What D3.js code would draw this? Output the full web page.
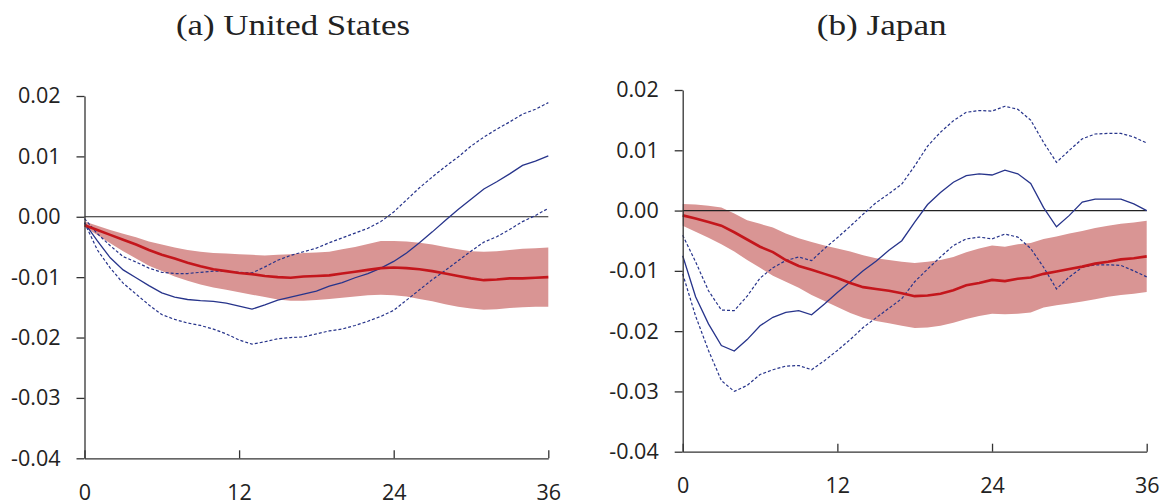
<!DOCTYPE html>
<html>
<head>
<meta charset="utf-8">
<script src="https://cdn.jsdelivr.net/npm/d3@7"></script>
<style>
  body { margin: 0; background: #fff; }
  svg { display: block; }
  .tick text { font-family: "Open Sans", sans-serif; font-size: 21.5px; fill: #222; }
  .title { font-family: "Liberation Serif", "Times New Roman", Tinos, Times, serif; font-weight: 400; font-size: 30px; fill: #222; }
</style>
</head>
<body>
<div id="chart"></div>
<script>
// Horizon (months) and tick labels
const months = d3.range(0, 37);
const xTicks = [0, 12, 24, 36];
const yTicks = [-0.04, -0.03, -0.02, -0.01, 0.00, 0.01, 0.02];

// (a) United States
const usMedian = [-0.0014, -0.0022, -0.0030, -0.0038, -0.0046, -0.0055, -0.0063, -0.0069, -0.0076, -0.0082,
  -0.0087, -0.0090, -0.0093, -0.0095, -0.0098, -0.0100, -0.0101, -0.0099, -0.0098, -0.0097,
  -0.0094, -0.0091, -0.0088, -0.0085, -0.0084, -0.0085, -0.0087, -0.0090, -0.0094, -0.0098,
  -0.0102, -0.0105, -0.0104, -0.0102, -0.0102, -0.0101, -0.0100];
const usBandHi = [-0.0008, -0.0015, -0.0022, -0.0028, -0.0034, -0.0041, -0.0046, -0.0051, -0.0055, -0.0058,
  -0.0060, -0.0061, -0.0062, -0.0063, -0.0064, -0.0063, -0.0062, -0.0060, -0.0059, -0.0058,
  -0.0054, -0.0050, -0.0045, -0.0040, -0.0040, -0.0041, -0.0043, -0.0046, -0.0050, -0.0054,
  -0.0057, -0.0058, -0.0057, -0.0055, -0.0053, -0.0052, -0.0051];
const usBandLo = [-0.0017, -0.0030, -0.0044, -0.0057, -0.0069, -0.0081, -0.0090, -0.0099, -0.0106, -0.0112,
  -0.0117, -0.0121, -0.0125, -0.0129, -0.0133, -0.0137, -0.0139, -0.0139, -0.0138, -0.0136,
  -0.0134, -0.0132, -0.0130, -0.0129, -0.0130, -0.0132, -0.0136, -0.0140, -0.0145, -0.0149,
  -0.0152, -0.0154, -0.0153, -0.0151, -0.0150, -0.0149, -0.0149];
const usPoint = [-0.0010, -0.0040, -0.0068, -0.0088, -0.0101, -0.0114, -0.0126, -0.0133, -0.0137, -0.0139,
  -0.0140, -0.0143, -0.0148, -0.0153, -0.0146, -0.0138, -0.0133, -0.0128, -0.0123, -0.0115,
  -0.0109, -0.0101, -0.0094, -0.0085, -0.0074, -0.0060, -0.0043, -0.0025, -0.0006, 0.0012,
  0.0029, 0.0046, 0.0058, 0.0071, 0.0085, 0.0092, 0.0101];
const usPointHi = [-0.0003, -0.0028, -0.0048, -0.0066, -0.0075, -0.0085, -0.0092, -0.0094, -0.0094, -0.0092,
  -0.0090, -0.0090, -0.0092, -0.0093, -0.0083, -0.0072, -0.0064, -0.0058, -0.0052, -0.0043,
  -0.0035, -0.0027, -0.0019, -0.0008, 0.0008, 0.0028, 0.0048, 0.0066, 0.0083, 0.0099,
  0.0117, 0.0132, 0.0145, 0.0157, 0.0170, 0.0178, 0.0189];
const usPointLo = [-0.0010, -0.0055, -0.0085, -0.0110, -0.0128, -0.0146, -0.0162, -0.0170, -0.0176, -0.0180,
  -0.0186, -0.0194, -0.0204, -0.0211, -0.0207, -0.0202, -0.0200, -0.0199, -0.0194, -0.0189,
  -0.0186, -0.0180, -0.0173, -0.0165, -0.0155, -0.0138, -0.0121, -0.0104, -0.0089, -0.0073,
  -0.0057, -0.0042, -0.0033, -0.0021, -0.0008, 0.0002, 0.0014];

// (b) Japan
const jpMedian = [-0.0008, -0.0013, -0.0019, -0.0025, -0.0036, -0.0048, -0.0060, -0.0069, -0.0082, -0.0092,
  -0.0098, -0.0105, -0.0112, -0.0120, -0.0127, -0.0130, -0.0133, -0.0137, -0.0142, -0.0141,
  -0.0138, -0.0132, -0.0124, -0.0120, -0.0115, -0.0117, -0.0113, -0.0111, -0.0105, -0.0101,
  -0.0097, -0.0093, -0.0088, -0.0085, -0.0081, -0.0079, -0.0076];
const jpBandHi = [0.0011, 0.0010, 0.0008, 0.0005, -0.0005, -0.0016, -0.0022, -0.0028, -0.0038, -0.0046,
  -0.0052, -0.0058, -0.0063, -0.0068, -0.0074, -0.0079, -0.0082, -0.0085, -0.0087, -0.0085,
  -0.0082, -0.0077, -0.0069, -0.0063, -0.0058, -0.0060, -0.0056, -0.0054, -0.0047, -0.0043,
  -0.0038, -0.0034, -0.0029, -0.0025, -0.0022, -0.0020, -0.0017];
const jpBandLo = [-0.0025, -0.0035, -0.0045, -0.0056, -0.0068, -0.0082, -0.0095, -0.0108, -0.0118, -0.0128,
  -0.0140, -0.0150, -0.0160, -0.0170, -0.0178, -0.0183, -0.0187, -0.0191, -0.0195, -0.0194,
  -0.0191, -0.0186, -0.0180, -0.0175, -0.0171, -0.0172, -0.0171, -0.0169, -0.0161, -0.0157,
  -0.0154, -0.0151, -0.0147, -0.0143, -0.0140, -0.0138, -0.0135];
const jpPoint = [-0.0075, -0.0143, -0.0188, -0.0224, -0.0233, -0.0214, -0.0191, -0.0177, -0.0169, -0.0166,
  -0.0173, -0.0155, -0.0136, -0.0118, -0.0100, -0.0084, -0.0066, -0.0050, -0.0019, 0.0010,
  0.0030, 0.0047, 0.0058, 0.0061, 0.0059, 0.0067, 0.0061, 0.0045, 0.0005, -0.0027,
  -0.0008, 0.0014, 0.0019, 0.0019, 0.0019, 0.0011, 0.0000];
const jpPointHi = [-0.0041, -0.0085, -0.0133, -0.0165, -0.0166, -0.0142, -0.0112, -0.0095, -0.0083, -0.0077,
  -0.0083, -0.0063, -0.0045, -0.0026, -0.0006, 0.0013, 0.0028, 0.0044, 0.0074, 0.0107,
  0.0130, 0.0149, 0.0163, 0.0166, 0.0165, 0.0173, 0.0168, 0.0150, 0.0113, 0.0080,
  0.0100, 0.0119, 0.0127, 0.0128, 0.0128, 0.0122, 0.0112];
const jpPointLo = [-0.0105, -0.0175, -0.0232, -0.0282, -0.0300, -0.0290, -0.0272, -0.0264, -0.0258, -0.0257,
  -0.0264, -0.0249, -0.0232, -0.0214, -0.0194, -0.0178, -0.0162, -0.0146, -0.0118, -0.0097,
  -0.0077, -0.0058, -0.0047, -0.0044, -0.0047, -0.0039, -0.0044, -0.0063, -0.0094, -0.0130,
  -0.0110, -0.0094, -0.0090, -0.0090, -0.0091, -0.0100, -0.0110];

const bandColor = '#d99594';
const redColor = '#c4161c';
const blueColor = '#27348b';

const svg = d3.select('#chart')
  .append('svg')
  .attr('width', 1161)
  .attr('height', 501);

function drawPanel(p) {
  const x = d3.scaleLinear().domain([0, 36]).range([p.left, p.right]);
  const y = d3.scaleLinear().domain([-0.04, 0.02]).range([p.bottom, p.top]);
  const g = svg.append('g');

  // Title
  svg.append('text')
    .attr('class', 'title')
    .attr('x', p.titleX)
    .attr('y', 35)
    .attr('text-anchor', 'middle')
    .attr('textLength', p.titleW)
    .attr('lengthAdjust', 'spacingAndGlyphs')
    .text(p.title);

  // Confidence band
  const area = d3.area()
    .x(i => x(months[i]))
    .y0(i => y(p.lo[i]))
    .y1(i => y(p.hi[i]));
  g.append('path')
    .datum(months.map((m, i) => i))
    .attr('fill', bandColor)
    .attr('d', area);

  // Zero line
  g.append('line')
    .attr('x1', x(0)).attr('x2', x(36))
    .attr('y1', y(0)).attr('y2', y(0))
    .attr('stroke', '#222')
    .attr('stroke-width', 1.2);

  const line = d3.line()
    .x((d, i) => x(months[i]))
    .y(d => y(d));

  // Point estimate and its bounds
  [p.pLo, p.pHi].forEach(s => {
    g.append('path')
      .datum(s)
      .attr('fill', 'none')
      .attr('stroke', blueColor)
      .attr('stroke-width', 1.2)
      .attr('stroke-dasharray', '3,2')
      .attr('d', line);
  });
  g.append('path')
    .datum(p.pt)
    .attr('fill', 'none')
    .attr('stroke', blueColor)
    .attr('stroke-width', 1.3)
    .attr('d', line);

  // Median
  g.append('path')
    .datum(p.med)
    .attr('fill', 'none')
    .attr('stroke', redColor)
    .attr('stroke-width', 2.6)
    .attr('d', line);

  // Axes
  const yAxis = g.append('g')
    .attr('transform', `translate(${p.left},0)`)
    .call(d3.axisLeft(y)
      .tickValues(yTicks)
      .tickFormat(d => d.toFixed(2))
      .tickSizeInner(8)
      .tickSizeOuter(0)
      .tickPadding(16));

  const xAxis = g.append('g')
    .attr('transform', `translate(0,${p.bottom})`)
    .call(d3.axisBottom(x)
      .tickValues(xTicks)
      .tickSizeInner(-8)
      .tickSizeOuter(0)
      .tickPadding(26));

  [yAxis, xAxis].forEach(a => {
    a.selectAll('path, line').attr('stroke', '#333').attr('stroke-width', 1.3);
  });
}

drawPanel({
  title: '(a) United States', titleX: 293, titleW: 234,
  left: 84.5, right: 548.3, top: 96, bottom: 458.3,
  med: usMedian, hi: usBandHi, lo: usBandLo, pt: usPoint, pHi: usPointHi, pLo: usPointLo
});

drawPanel({
  title: '(b) Japan', titleX: 881.7, titleW: 130,
  left: 682.7, right: 1146.7, top: 90, bottom: 451.7,
  med: jpMedian, hi: jpBandHi, lo: jpBandLo, pt: jpPoint, pHi: jpPointHi, pLo: jpPointLo
});
</script>
</body>
</html>
